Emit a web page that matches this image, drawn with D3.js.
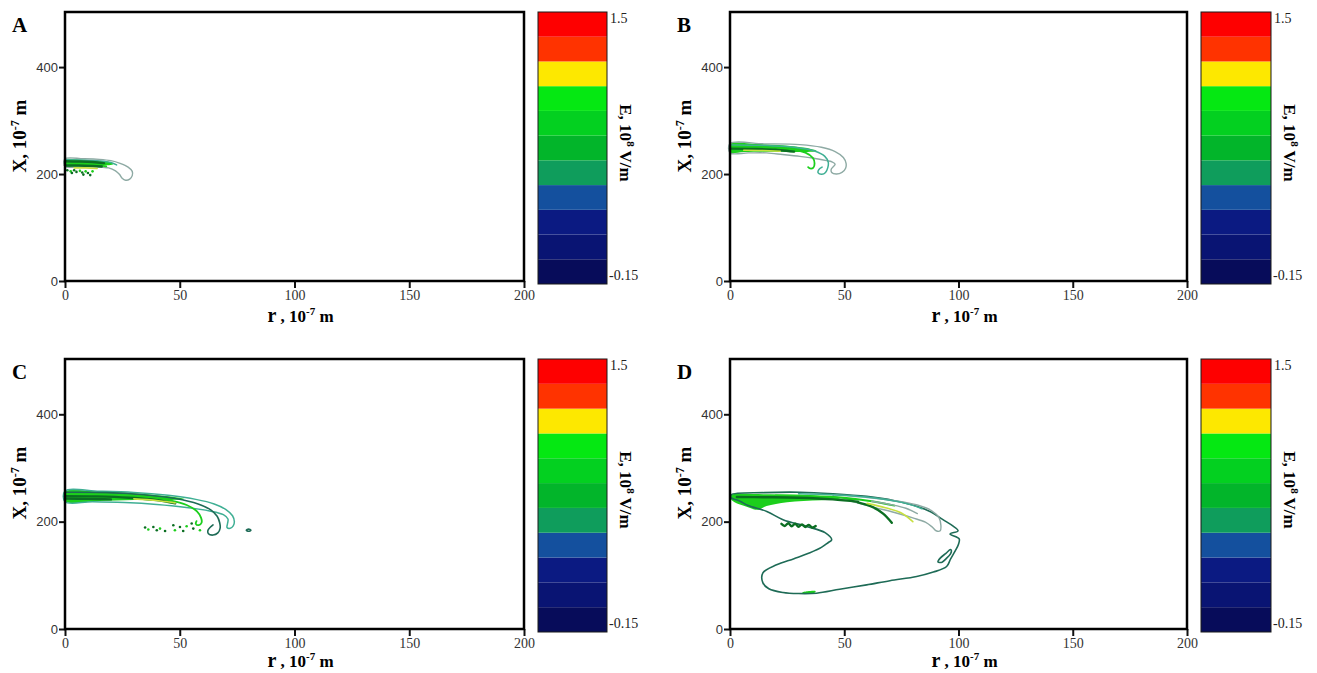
<!DOCTYPE html>
<html>
<head>
<meta charset="utf-8">
<script src="https://cdn.jsdelivr.net/npm/d3@7"></script>
<style>
  body { margin: 0; background: #fff; }
  svg { display: block; }
</style>
</head>
<body>
<svg id="fig" width="1317" height="673"></svg>
<script>
// ---- Colour key: field strength E, 10^8 V/m (band edges, bottom to top) ----
const keyLevels = [-0.15, 0, 0.15, 0.3, 0.45, 0.6, 0.75, 0.9, 1.05, 1.2, 1.35, 1.5];
const keyColors = ["#070c5a", "#091473", "#0b1a82", "#14509e", "#0f9d5c", "#02b52a",
                   "#03d020", "#05e812", "#fde800", "#ff3300", "#fe0000"];
const keyTickLabels = ["-0.15", "1.5"];

// ---- Axes ----
const rTicks = [0, 50, 100, 150, 200];      // r, 10^-7 m
const xTicks = [0, 200, 400];               // X, 10^-7 m
const rDomain = [0, 200];
const xDomain = [0, 503];

// ---- Panel A: iso-field lines [r, X] ----
const contoursA = [
  { level: 0.6, closed: true, pts: [[0,228.5],[8,228.5],[15,227.5],[20,225],[24,220],[27.5,213],[29.3,205],[29.3,197],[28.2,190.5],[26.4,188.5],[24.9,192],[23.8,199],[22,206],[19,211.5],[14,213.5],[7,214],[0,214]] },
  { level: 0.75, pts: [[0,226.5],[8,226],[15,224.5],[20,221.5],[22.5,217]] },
  { level: 1.05, pts: [[0,219],[7,218.5],[13,217],[18,214.5]] },
  { level: 0.9, pts: [[0,224],[6,223.5],[12,222.5],[17,220.5]] },
  { level: 0.9, pts: [[0,216],[6,216],[12,215],[16,214]] },
  { level: 1.2, pts: [[4,211.5],[9,211.5],[14,210.5]] }
];
const patchesA = [
  { level: 1.05, pts: [[0,227],[8,226.5],[15,225],[20,222],[21,218.5],[16,216],[8,215.5],[0,215]] }
];
const dotsA = [[1,207],[2.5,205],[4,207],[5,204],[6.5,206],[7.5,203],[8,199],[9,205],[10,202],[11,198],[12,205],[3,202]];

// ---- Panel B ----
const contoursB = [
  { level: 0.6, closed: true, pts: [[0,257],[15,256.5],[30.6,255],[40,250],[46,242],[49.6,231],[50.8,220],[50.6,211],[49,203],[46.5,200],[44.5,203],[44.3,209],[46,218.6],[44.5,223],[42.3,225],[36,230],[30.6,233],[23,236.5],[16,239.5],[8,239.5],[0,239.5]] },
  { level: 0.75, pts: [[0,254.5],[15,253.5],[28,250],[37,243],[41.5,233],[43,222],[42.8,212],[41.8,203],[40.2,199.5],[38.6,202],[38.8,208],[40.3,213]] },
  { level: 1.05, pts: [[0,251],[14,250],[26,246.5],[33,240],[36.3,230],[37,220],[36.5,212],[35,210.5],[34.2,213]] },
  { level: 0.9, pts: [[0,247.5],[10,247],[20,245.5],[28,242]] },
  { level: 1.2, pts: [[6,244.5],[14,244],[22,242.5]] }
];
const patchesB = [
  { level: 1.05, pts: [[0,256],[12,256],[24,253.5],[33,249],[38,243],[30,241],[18,241.5],[6,241],[0,240]] }
];
const dotsB = [];

// ---- Panel C ----
const contoursC = [
  { level: 0.75, closed: true, pts: [[0,257],[15,256.5],[30,254.5],[45,249],[57,241.5],[65,233],[70,223],[73,211],[73.8,200],[73.3,192],[72,187.5],[70.6,189],[70.8,196],[71,205],[69,213],[63,220],[52,227],[40,232],[26,235.5],[12,237],[0,237]] },
  { level: 0.45, pts: [[0,254.5],[18,254],[34,250],[48,243],[58,233],[63.5,222],[66.3,210],[67.4,198],[67.6,188],[66.6,179],[64.5,175],[62.5,177.5],[62.3,184],[63.4,190],[64.5,194]] },
  { level: 1.05, pts: [[0,251.5],[18,250.5],[33,247],[45,240],[53,231],[57.5,219],[59.3,207],[59.5,198],[58.3,193.5],[57,196],[57.3,201]] },
  { level: 0.9, pts: [[0,247.5],[14,247],[28,244.5],[40,240],[48,234]] },
  { level: 0.9, pts: [[0,243],[10,242.5],[20,241.5]] },
  { level: 1.2, pts: [[30,242.5],[40,239.5],[48,235]] },
  { level: 0.45, closed: true, pts: [[79,184],[80,186],[81,184],[80,182]] }
];
const patchesC = [
  { level: 1.05, pts: [[0,256],[15,255.5],[30,253],[42,248.5],[52,242],[44,240],[30,240.5],[15,238.5],[0,238]] }
];
const dotsC = [[34.9,189],[36.3,185.3],[38.5,190],[40,184],[41.4,187],[43.6,182.7],[47.2,193.4],[47.9,184],[50.1,190],[51.5,182.7],[53,191.5],[55.2,196.6],[55.9,187],[58.8,184]];

// ---- Panel D ----
const contoursD = [
  { level: 0.45, closed: true, pts: [[0.5,250],[15,254],[30.6,254.8],[45,252],[59.8,247],[72,239],[81.7,228.6],[88,218],[93.2,203.7],[97.5,192],[99.8,183],[96.3,177],[100.3,168],[100,158],[98.5,145],[96.5,130],[94.8,116.4],[89,106],[81.7,97.8],[70,90],[59.8,82.2],[48,74],[37.9,66.7],[30,66],[23.2,68],[17,75],[14.4,86],[14.4,104.7],[20.4,119.6],[28,131],[35,142],[40,152],[42.9,160.7],[44.5,166],[41.6,179.4],[33.6,191],[23.2,203.7],[16.1,219],[8,230],[4.4,238],[0.4,245]] },
  { level: 0.6, closed: true, pts: [[45,249],[60,245],[72,239],[82,231],[88,221],[91.5,207],[92.3,193],[92,183],[90.2,183],[88.5,190],[85.5,199],[80,207],[72,217],[62,228]] },
  { level: 0.45, closed: true, pts: [[96.5,148],[94.5,141],[92,132],[91,125],[92.8,124.5],[94.6,131],[96.5,140],[96.9,146]] },
  { level: 0.75, pts: [[30,252],[50,249],[65,243],[77,234],[84,224]] },
  { level: 1.05, pts: [[20,249],[35,248],[50,244.5],[62,238],[72,230]] },
  { level: 0.9, pts: [[3,246],[15,245.5],[30,244.5],[45,241.5],[56,237]] },
  { level: 0.9, pts: [[56,236],[62,228],[67,215],[70.8,198]] },
  { level: 1.2, pts: [[60,234],[68,226],[75,216],[80,200]] },
  { level: 0.6, pts: [[62,238],[70,232],[77,225],[82,215]] },
  { level: 0.9, pts: [[22.5,196],[24,192],[25.5,197],[27,191.5],[28.5,196],[30,190.5],[31.5,195],[33,190],[34.5,194],[36,189],[37.5,192]] }
];
const patchesD = [
  { level: 1.05, pts: [[0,249],[15,251],[30,250],[45,246],[58,241],[40,240],[25,236],[16,229],[12,222],[7,228],[2,236],[0,244]] },
  { level: 1.05, pts: [[31.5,68],[34,70.5],[37.5,70.5],[37,67.5],[33,66.5]] }
];
const dotsD = [];

// ---- Layout (pixels) and line styling ----
const layout = [
  { letter: "A", contours: contoursA, patches: patchesA, dots: dotsA, x0: 65,  x1: 524,  y0: 12,  y1: 281, cb0: 538,  cb1: 607,  titleGap: 41 },
  { letter: "B", contours: contoursB, patches: patchesB, dots: dotsB, x0: 730, x1: 1187, y0: 12,  y1: 281, cb0: 1201, cb1: 1271, titleGap: 41 },
  { letter: "C", contours: contoursC, patches: patchesC, dots: dotsC, x0: 65,  x1: 524,  y0: 359, y1: 629, cb0: 538,  cb1: 607,  titleGap: 38 },
  { letter: "D", contours: contoursD, patches: patchesD, dots: dotsD, x0: 730, x1: 1187, y0: 359, y1: 629, cb0: 1201, cb1: 1271, titleGap: 38 }
];
const lineColor = d3.scaleOrdinal()
  .domain([0.45, 0.6, 0.75, 0.9, 1.05, 1.2])
  .range(["#1e6b56", "#8eaaa4", "#3faf94", "#0b6e22", "#1ccf1c", "#c8e040"]);
const lineWidth = d3.scaleOrdinal()
  .domain([0.45, 0.6, 0.75, 0.9, 1.05, 1.2])
  .range([1.6, 1.4, 1.5, 2.4, 1.8, 1.6]);

const serif = "'Liberation Serif','Times New Roman',serif";
const sansNarrow = "'Liberation Sans Narrow','Liberation Sans',Arial,sans-serif";

const svg = d3.select("#fig");

function unitLabel(sel, parts) {
  parts.forEach(p => {
    const t = sel.append("tspan").text(p.t);
    if (p.sup) t.attr("font-size", p.sup).attr("dy", -7);
    if (p.down) t.attr("dy", 7);
    if (p.size) t.attr("font-size", p.size);
  });
}

layout.forEach(p => {
  const g = svg.append("g");
  const x = d3.scaleLinear().domain(rDomain).range([p.x0, p.x1]);
  const y = d3.scaleLinear().domain(xDomain).range([p.y1, p.y0]);

  // filled regions and iso-lines
  const area = d3.line().x(d => x(d[0])).y(d => y(d[1])).curve(d3.curveCatmullRomClosed);
  const open = d3.line().x(d => x(d[0])).y(d => y(d[1])).curve(d3.curveCatmullRom);

  const plot = g.append("g");
  plot.selectAll("path.patch").data(p.patches).join("path")
    .attr("class", "patch")
    .attr("d", d => area(d.pts))
    .attr("fill", d => lineColor(d.level))
    .attr("stroke", "none");
  plot.selectAll("path.iso").data(p.contours).join("path")
    .attr("class", "iso")
    .attr("d", d => (d.closed ? area : open)(d.pts))
    .attr("fill", "none")
    .attr("stroke", d => lineColor(d.level))
    .attr("stroke-width", d => lineWidth(d.level))
    .attr("stroke-linejoin", "round")
    .attr("stroke-linecap", "round");
  plot.selectAll("circle").data(p.dots).join("circle")
    .attr("cx", d => x(d[0])).attr("cy", d => y(d[1]))
    .attr("r", 1.3)
    .attr("fill", (d, i) => i % 3 === 1 ? lineColor(1.05) : lineColor(0.9));

  // axes
  const ax = g.append("g").attr("transform", `translate(0,${p.y1})`)
    .call(d3.axisBottom(x).tickValues(rTicks).tickSize(7).tickPadding(2).tickFormat(d3.format("d")));
  ax.select(".domain").remove();
  ax.selectAll(".tick line").attr("stroke", "#111").attr("stroke-width", 2);
  ax.selectAll(".tick text").attr("font-family", serif).attr("font-size", 14).attr("fill", "#333");

  const ay = g.append("g").attr("transform", `translate(${p.x0},0)`)
    .call(d3.axisLeft(y).tickValues(xTicks).tickSize(6).tickPadding(1).tickFormat(d3.format("d")));
  ay.select(".domain").remove();
  ay.selectAll(".tick line").attr("stroke", "#111").attr("stroke-width", 2);
  ay.selectAll(".tick text").attr("font-family", sansNarrow).attr("font-size", 13).attr("fill", "#333");

  // frame
  g.append("rect")
    .attr("x", p.x0).attr("y", p.y0)
    .attr("width", p.x1 - p.x0).attr("height", p.y1 - p.y0)
    .attr("fill", "none").attr("stroke", "#000").attr("stroke-width", 2.5);

  // panel letter
  g.append("text").attr("x", p.x0 - 53).attr("y", p.y0 + 20)
    .attr("font-family", serif).attr("font-weight", "bold").attr("font-size", 21)
    .text(p.letter);

  // axis titles
  const yt = g.append("text")
    .attr("transform", `translate(${p.x0 - 39},${p.y0 + 124}) rotate(-90)`)
    .attr("text-anchor", "middle")
    .attr("font-family", serif).attr("font-weight", "bold").attr("font-size", 19);
  unitLabel(yt, [{ t: "X, 10" }, { t: "-7", sup: 12 }, { t: " m", down: true }]);

  const xt = g.append("text")
    .attr("x", (p.x0 + p.x1) / 2 + 6).attr("y", p.y1 + p.titleGap)
    .attr("text-anchor", "middle")
    .attr("font-family", serif).attr("font-weight", "bold").attr("font-size", 17);
  unitLabel(xt, [{ t: "r", size: 20 }, { t: " , 10", size: 17 }, { t: "-7", sup: 11 }, { t: " m", down: true }]);

  // colour key
  const cbTop = p.y0, cbBot = p.y1 + 3;
  const k = d3.scaleLinear().domain([keyLevels[0], keyLevels[keyLevels.length - 1]]).range([cbBot, cbTop]);
  const cb = g.append("g");
  cb.selectAll("rect.band").data(keyColors).join("rect")
    .attr("class", "band")
    .attr("x", p.cb0).attr("width", p.cb1 - p.cb0)
    .attr("y", (c, i) => k(keyLevels[i + 1]))
    .attr("height", (c, i) => k(keyLevels[i]) - k(keyLevels[i + 1]))
    .attr("fill", c => c);
  cb.append("rect")
    .attr("x", p.cb0).attr("y", cbTop).attr("width", p.cb1 - p.cb0).attr("height", cbBot - cbTop)
    .attr("fill", "none").attr("stroke", "#1a1a1a").attr("stroke-width", 1);
  cb.append("text").attr("x", p.cb1 + 3).attr("y", k(keyLevels[keyLevels.length - 1]) + 11)
    .attr("font-family", serif).attr("font-size", 14).attr("fill", "#222")
    .text(keyTickLabels[1]);
  cb.append("text").attr("x", p.cb1 + 2).attr("y", k(keyLevels[0]) - 4)
    .attr("font-family", serif).attr("font-size", 14).attr("fill", "#222")
    .text(keyTickLabels[0]);
  const et = cb.append("text")
    .attr("transform", `translate(${p.cb1 + 13},${p.y0 + 131}) rotate(90)`)
    .attr("text-anchor", "middle")
    .attr("font-family", serif).attr("font-weight", "bold").attr("font-size", 17);
  unitLabel(et, [{ t: "E, 10" }, { t: "8", sup: 11 }, { t: " V/m", down: true }]);
});
</script>
</body>
</html>
